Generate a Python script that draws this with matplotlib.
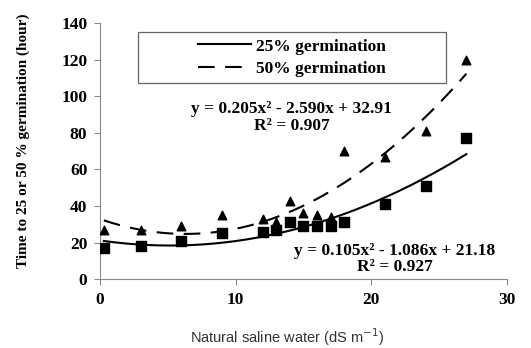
import numpy as np
import matplotlib.pyplot as plt
from matplotlib.lines import Line2D
from matplotlib.patches import Rectangle

# salinity levels (dS/m) and germination times (hours)
salinity = [0.3, 3, 6, 9, 12, 13, 14, 15, 16, 17, 18, 21, 24, 27]
t25 = [17, 18, 21, 25, 26, 27, 31, 29, 29, 29, 31, 41, 51, 77]
t50 = [27, 27, 29, 35, 33, 31, 43, 36, 35, 34, 70, 67, 81, 120]

# trend line coefficients as printed on the chart
coef25 = [0.105, -1.086, 21.18]
coef50 = [0.205, -2.590, 32.91]

plt.rcParams['font.family'] = ['Liberation Serif', 'DejaVu Serif']

fig = plt.figure(figsize=(5.31, 3.48), dpi=100)
ax = fig.add_axes([0.188, 0.198, 0.767, 0.735])

xs = np.linspace(min(salinity), max(salinity), 200)
ax.plot(xs, np.polyval(coef25, xs), color='black', lw=1.5)
ax.plot(xs, np.polyval(coef50, xs), color='black', lw=1.5, dashes=(8, 5))
ax.scatter(salinity, t25, marker='s', s=48, color='black', zorder=3)
ax.scatter(salinity, t50, marker='^', s=38, color='black', zorder=3)

ax.set_xlim(0, 30)
ax.set_ylim(0, 140)
ax.set_xticks([0, 10, 20, 30])
ax.set_yticks(range(0, 141, 20))
ax.tick_params(labelsize=12.5, direction='out', length=4, color='#888888', pad=5)
for lab in ax.get_xticklabels() + ax.get_yticklabels():
    lab.set_fontweight('bold')
for s in ['top', 'right']:
    ax.spines[s].set_visible(False)
for s in ['left', 'bottom']:
    ax.spines[s].set_color('#888888')

ax.set_ylabel('Time to 25 or 50 % germination (hour)', fontsize=11, fontweight='bold')
ax.yaxis.set_label_coords(-0.172, 0.54)
ax.set_xlabel('Natural saline water (dS m$^{-1}$)', fontsize=10.5, family='Liberation Sans',
              color='#333333')
ax.xaxis.set_label_coords(0.459, -0.185)

# legend box drawn by hand, legend centred inside it
ax.add_patch(Rectangle((0.0934, 0.767), 0.757, 0.199, transform=ax.transAxes,
                       fill=False, edgecolor='#666666', lw=0.9, zorder=4))
handles = [Line2D([], [], color='black', lw=1.5),
           Line2D([], [], color='black', lw=1.5, dashes=(8, 5))]
ax.legend(handles, ['25% germination', '50% germination'], loc='center',
          bbox_to_anchor=(0.472, 0.866), frameon=False,
          prop={'weight': 'bold', 'size': 12.5}, handlelength=3.0,
          handletextpad=0.3, labelspacing=0.35)

ax.text(14.15, 88.5, 'y = 0.205x² - 2.590x + 32.91\nR² = 0.907', ha='center', va='center',
        fontsize=12.5, fontweight='bold', linespacing=1.05)
ax.text(21.7, 11, 'y = 0.105x² - 1.086x + 21.18\nR² = 0.927', ha='center', va='center',
        fontsize=12.5, fontweight='bold', linespacing=1.05)

fig.savefig('out.png', dpi=100)
